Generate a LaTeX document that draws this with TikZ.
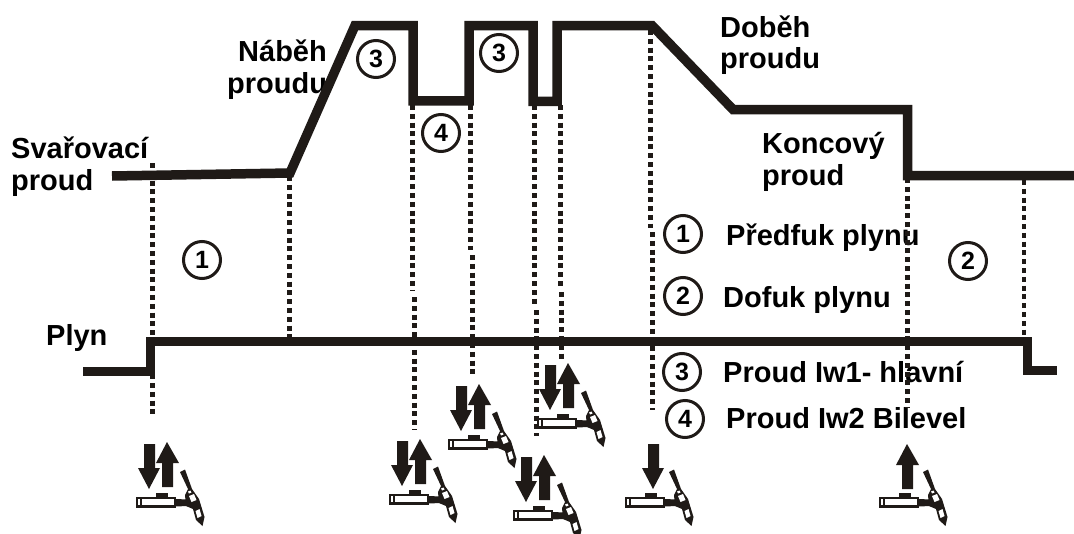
\documentclass[tikz,border=0pt]{standalone}
\usepackage{fontspec}
\setmainfont{Liberation Sans}
\definecolor{ink}{HTML}{1F1A17}
\tikzset{
  x=1pt,y=-1pt,
  wave/.style={draw=ink,line width=#1,line join=miter},
  drop/.style={draw=ink,line width=5pt,dash pattern=on 5pt off 3.8pt},
  lab/.style={anchor=base west,inner sep=0pt,font=\fontsize{29}{29}\selectfont\bfseries,text=black},
  num/.style={circle,draw=ink,line width=3pt,minimum size=37pt,inner sep=0pt,font=\fontsize{25}{25}\selectfont\bfseries,text=black},
  torch/.pic={
    \fill[white,draw=ink,line width=2.5pt] (1,56) rectangle (39,64.5);
    \draw[ink,line width=2pt] (5,56) -- (5,64.5);
    \fill[ink] (20,51) rectangle (32,55.5);
    \fill[ink] (39,57) -- (52,57.5) -- (52,64) -- (39,64.5) -- cycle;
    \fill[ink] (44,30) -- (49,27.5) -- (56,47) -- (63,57) -- (68.5,75) -- (66.5,84) -- (60,78) -- (57,67) -- (50,64) -- (49,53) -- (52,47) -- cycle;
    \fill[white] (52,49.5) -- (54.5,48.5) -- (55.5,50.5) -- (53,51.5) -- cycle;
    \fill[white] (53,54) -- (58,52) -- (60.5,58) -- (55.5,60) -- cycle;
    \fill[white] (59.5,69) -- (63.5,67) -- (65.5,74) -- (61.5,76) -- cycle;
  },
  downarrow/.pic={\fill[ink] (8,2) -- (19,2) -- (19,26) -- (24,26) -- (13,47) -- (2,26) -- (8,26) -- cycle;},
  uparrow/.pic={\fill[ink] (31,0) -- (43,21) -- (37,21) -- (37,45) -- (26,45) -- (26,21) -- (20,21) -- cycle;},
}
\begin{document}
\begin{tikzpicture}
\useasboundingbox (0,0) rectangle (1074,533);
% labels first: the dotted lines run over them
\node[lab] (t1) at (11,158) {Svařovací};
\node[lab] (t2) at (11,190) {proud};
\node[lab] (t3) at (238,61) {Náběh};
\node[lab] (t4) at (227,93) {proudu};
\node[lab] (t5) at (720,37) {Doběh};
\node[lab] (t6) at (720,68) {proudu};
\node[lab] (t7) at (762,153) {Koncový};
\node[lab] (t8) at (762,185) {proud};
\node[lab] (t9) at (46,345) {Plyn};
\node[lab] (t10) at (726,245) {Předfuk plynu};
\node[lab] (t11) at (723,307) {Dofuk plynu};
\node[lab] (t12) at (723,382) {Proud Iw1- hlavní};
\node[lab] (t13) at (726,428) {Proud Iw2 Bilevel};
% dropped lines (each has a small sideways jog in the reference)
\draw[drop] (152.5,163) -- (152.5,418);
\draw[drop] (289.5,176) -- (289.5,338);
\draw[drop] (412,105) -- (412,290);
\draw[drop] (414,297) -- (414,430);
\draw[drop] (470.5,105) -- (470.5,250);
\draw[drop] (472.5,255) -- (472.5,378);
\draw[drop] (534.7,105) -- (534.7,306);
\draw[drop] (536,310) -- (536,436);
\draw[drop] (560,105) -- (560,288);
\draw[drop] (561,292) -- (561,362);
\draw[drop] (650,30) -- (650,228);
\draw[drop] (652,232) -- (652,410);
\draw[drop] (907.5,178) -- (907.5,408);
\draw[drop,line width=4pt] (1023.5,180) -- (1023.5,340);
% current
\draw[wave=9.5pt] (112,176) -- (290,173) -- (355,25.5) -- (413,25.5) -- (413,100.8) -- (469,100.8) -- (469,25.5) -- (533,25.5) -- (533,101.3) -- (557,101.3) -- (557,25.5) -- (652,25.5) -- (733,109.5) -- (907.5,109.5) -- (907.5,175.5) -- (1074,175.5);
% gas
\draw[wave=9pt] (83,371) -- (150,371) -- (150,341.5) -- (1027,341.5) -- (1027,370) -- (1057,370);
% numbers
\node[num] (n1) at (202,260) {1};
\node[num] (n2) at (376,59) {3};
\node[num] (n3) at (499,53) {3};
\node[num] (n4) at (441,133) {4};
\node[num] (n5) at (968,261) {2};
\node[num] (n6) at (683,234) {1};
\node[num] (n7) at (683,296) {2};
\node[num] (n8) at (682,372) {3};
\node[num] (n9) at (685,419) {4};
% torches
\foreach \p in {(136,442),(389,439),(448,384),(537,363),(513,455),(625,442),(879,442)}
  \pic at \p {torch};
\foreach \p in {(136,442),(389,439),(448,384),(537,363),(513,455),(640,442)}
  \pic at \p {downarrow};
\foreach \p in {(136,442),(389,439),(448,384),(537,363),(513,455),(876,444)}
  \pic at \p {uparrow};
\end{tikzpicture}
\end{document}
